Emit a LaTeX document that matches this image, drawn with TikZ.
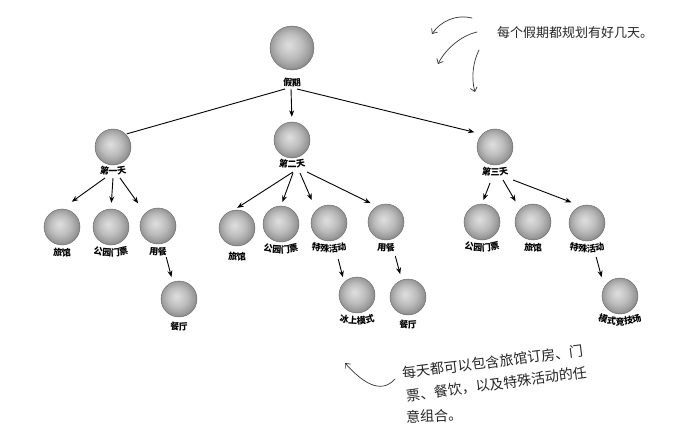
\documentclass[tikz,border=0pt]{standalone}
\usepackage{fontspec}
\newfontfamily\cjk{Noto Sans CJK SC}
\usetikzlibrary{arrows.meta,decorations.text,calc}
\pgfdeclareradialshading{myball}{\pgfpoint{-4bp}{4bp}}{%
 color(0bp)=(black!13); color(5bp)=(black!17); color(14bp)=(black!26); color(22bp)=(black!38); color(27bp)=(black!48); color(40bp)=(black!52)}
\newcommand\ballLabel[3][29]{\path[decorate,decoration={text along path,text align=center,text={|\cjk\bfseries\fontsize{9}{10}\selectfont|#3}}] ([shift={(0,#1)}]#2) ++(-30,-8.04) arc[start angle=120,end angle=60,radius=60];}
\begin{document}
\begin{tikzpicture}[x=1pt,y=-1pt,
 ball/.style={circle,inner sep=0pt,minimum size=36pt,shading=myball,draw=black!60,line width=0.4pt},
 link/.style={line width=0.9pt,-{Stealth[length=6.5pt,width=5pt]}},
 plainlink/.style={line width=0.9pt},
 hand/.style={line width=0.7pt,black!80,line cap=round,-{Straight Barb[length=4pt,width=7pt]}},
 note/.style={font=\cjk\fontsize{13}{15}\selectfont,text=black!85,inner sep=0pt,anchor=west},
 bignote/.style={note,font=\cjk\fontsize{14}{16}\selectfont}]
\fill[white] (0,0) rectangle (690,425);
\useasboundingbox (0,0) rectangle (690,425);

% balls
\node[ball,minimum size=44pt] (root) at (292,48) {};
\node[ball] (d1) at (113,147) {};
\node[ball] (d2) at (292,140) {};
\node[ball] (d3) at (495,147) {};
\node[ball] (a1) at (62,227) {};
\node[ball] (a2) at (111,227) {};
\node[ball] (a3) at (158,226) {};
\node[ball] (a4) at (179,299) {};
\node[ball] (b1) at (237,228) {};
\node[ball] (b2) at (281,224) {};
\node[ball] (b3) at (329,223) {};
\node[ball] (b4) at (386,222) {};
\node[ball] (b5) at (357,295) {};
\node[ball] (b6) at (408,297) {};
\node[ball] (c1) at (482,222) {};
\node[ball] (c2) at (533,222) {};
\node[ball] (c3) at (587,223) {};
\node[ball] (c4) at (620,296) {};

% labels
\ballLabel[38]{root}{假期}
\ballLabel[28]{d1}{第一天}
\ballLabel[28]{d2}{第二天}
\ballLabel[29]{d3}{第三天}
\ballLabel{a1}{旅馆}
\ballLabel{a2}{公园门票}
\ballLabel{a3}{用餐}
\ballLabel[31]{a4}{餐厅}
\ballLabel[32]{b1}{旅馆}
\ballLabel{b2}{公园门票}
\ballLabel{b3}{特殊活动}
\ballLabel{b4}{用餐}
\ballLabel{b5}{冰上模式}
\ballLabel[31]{b6}{餐厅}
\ballLabel{c1}{公园门票}
\ballLabel{c2}{旅馆}
\ballLabel{c3}{特殊活动}
\ballLabel{c4}{模式竞技场}

% feet below labels
\coordinate (rf) at (291,89);
\coordinate (f1) at (113,178);
\coordinate (f2) at (300,172);
\coordinate (f3) at (503,180);

% connectors
\draw[plainlink,shorten >=1pt] ([shift={(-6,0)}]rf) -- (d1.north east);
\draw[link,shorten >=5pt] (rf) -- (d2.north);
\draw[link,shorten >=8pt] ([shift={(6,0)}]rf) -- (d3.north west);

\draw[link,shorten >=12pt] ([shift={(-8,0)}]f1) -- (a1.north);
\draw[link,shorten >=6pt] (f1) -- (a2.north);
\draw[link,shorten >=12pt] ([shift={(7,0)}]f1) -- (a3.north west);
\draw[link,shorten <=14pt,shorten >=5pt] (a3) -- (a4.110);

\draw[link,shorten >=4pt] ([shift={(-7,0)}]f2) -- (b1.100);
\draw[link,shorten >=4pt] ([shift={(-7,1)}]f2) -- (b2.north);
\draw[link,shorten >=11pt] ([shift={(0,1)}]f2) -- (b3.north west);
\draw[link,shorten >=7pt] ([shift={(7,0)}]f2) -- (b4.120);
\draw[link,shorten <=19pt,shorten >=5pt] (b3) -- (b5.north west);
\draw[link,shorten <=17pt,shorten >=6pt] (b4) -- (b6.110);

\draw[link,shorten >=4pt] ([shift={(-13,3)}]f3) -- (c1.north);
\draw[link,shorten >=9pt] (f3) -- (c2.north west);
\draw[link,shorten >=10pt] ([shift={(10,0)}]f3) -- (c3.110);
\draw[link,shorten <=17pt,shorten >=10pt] (c3) -- (c4.150);

% annotations
\node[note] (topnote) at (497,33) {每个假期都规划有好几天。};
\coordinate (h1s) at (472,18); \coordinate (h1e) at (432,34);
\coordinate (h2s) at (477,32); \coordinate (h2e) at (438,64);
\coordinate (h3s) at (479,50); \coordinate (h3e) at (475,92);
\draw[hand] (h1s) .. controls (455,14) and (440,22) .. (h1e);
\draw[hand] (h2s) .. controls (460,36) and (445,50) .. (h2e);
\draw[hand] (h3s) .. controls (473,62) and (471,78) .. (h3e);

\node[bignote,rotate=7] (n1) at (402,373) {每天都可以包含旅馆订房、门};
\node[bignote,rotate=7.5] (n2) at (406,396) {票、餐饮，以及特殊活动的任};
\node[bignote,rotate=2] (n3) at (406,417) {意组合。};
\coordinate (h4s) at (395,379); \coordinate (h4e) at (345,363);
\draw[hand] (h4s) .. controls (380,396) and (360,380) .. (h4e);
\end{tikzpicture}
\end{document}
